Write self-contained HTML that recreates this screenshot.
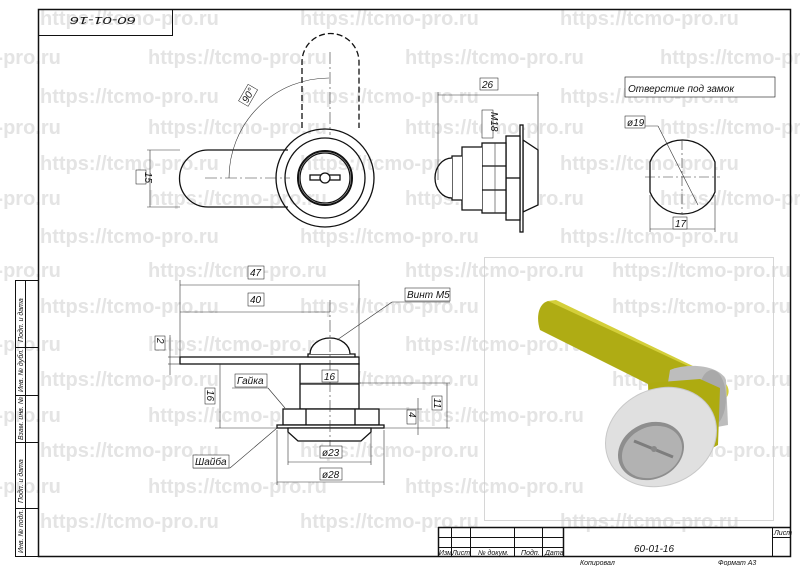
<!DOCTYPE html>
<html><head><meta charset="utf-8"><style>
html,body{margin:0;padding:0;background:#fff}
svg{display:block}
.wm{font:bold 20px "Liberation Sans",sans-serif;fill:#e4e4e4}
.t{font:italic 10px "Liberation Sans",sans-serif;fill:#111}
.s{font:italic 7px "Liberation Sans",sans-serif;fill:#111}
</style></head><body>
<svg width="800" height="566" viewBox="0 0 800 566" xmlns="http://www.w3.org/2000/svg">
<rect width="800" height="566" fill="#fff"/>
<g class="wm">
<text x="40" y="25">https://tcmo-pro.ru</text><text x="300" y="25">https://tcmo-pro.ru</text><text x="560" y="25">https://tcmo-pro.ru</text>
<text x="-118" y="64">https://tcmo-pro.ru</text><text x="148" y="64">https://tcmo-pro.ru</text><text x="405" y="64">https://tcmo-pro.ru</text><text x="660" y="64">https://tcmo-pro.ru</text>
<text x="40" y="103">https://tcmo-pro.ru</text><text x="300" y="103">https://tcmo-pro.ru</text><text x="560" y="103">https://tcmo-pro.ru</text>
<text x="-118" y="134">https://tcmo-pro.ru</text><text x="148" y="134">https://tcmo-pro.ru</text><text x="405" y="134">https://tcmo-pro.ru</text><text x="660" y="134">https://tcmo-pro.ru</text>
<text x="40" y="170">https://tcmo-pro.ru</text><text x="300" y="170">https://tcmo-pro.ru</text><text x="560" y="170">https://tcmo-pro.ru</text>
<text x="-118" y="205">https://tcmo-pro.ru</text><text x="148" y="205">https://tcmo-pro.ru</text><text x="405" y="205">https://tcmo-pro.ru</text><text x="660" y="205">https://tcmo-pro.ru</text>
<text x="40" y="243">https://tcmo-pro.ru</text><text x="300" y="243">https://tcmo-pro.ru</text><text x="560" y="243">https://tcmo-pro.ru</text>
<text x="-118" y="277">https://tcmo-pro.ru</text><text x="148" y="277">https://tcmo-pro.ru</text><text x="405" y="277">https://tcmo-pro.ru</text><text x="612" y="277">https://tcmo-pro.ru</text>
<text x="40" y="313">https://tcmo-pro.ru</text><text x="300" y="313">https://tcmo-pro.ru</text><text x="612" y="313">https://tcmo-pro.ru</text>
<text x="-118" y="351">https://tcmo-pro.ru</text><text x="148" y="351">https://tcmo-pro.ru</text><text x="405" y="351">https://tcmo-pro.ru</text>
<text x="40" y="386">https://tcmo-pro.ru</text><text x="300" y="386">https://tcmo-pro.ru</text><text x="612" y="386">https://tcmo-pro.ru</text>
<text x="-118" y="422">https://tcmo-pro.ru</text><text x="148" y="422">https://tcmo-pro.ru</text><text x="405" y="422">https://tcmo-pro.ru</text>
<text x="40" y="457">https://tcmo-pro.ru</text><text x="300" y="457">https://tcmo-pro.ru</text><text x="612" y="457">https://tcmo-pro.ru</text>
<text x="-118" y="493">https://tcmo-pro.ru</text><text x="148" y="493">https://tcmo-pro.ru</text><text x="405" y="493">https://tcmo-pro.ru</text>
<text x="40" y="528">https://tcmo-pro.ru</text><text x="300" y="528">https://tcmo-pro.ru</text><text x="560" y="528">https://tcmo-pro.ru</text>
</g>
<!-- frame -->
<g fill="none" stroke="#111">
<rect x="38.5" y="9.5" width="752" height="547" stroke-width="1.5"/>
<rect x="38.5" y="9.5" width="134" height="26"/>
<rect x="15.5" y="280.5" width="23" height="276"/>
<line x1="25.5" y1="280" x2="25.5" y2="557"/>
<line x1="15" y1="347.5" x2="38" y2="347.5"/><line x1="15" y1="395.5" x2="38" y2="395.5"/><line x1="15" y1="442.5" x2="38" y2="442.5"/><line x1="15" y1="508.5" x2="38" y2="508.5"/>
</g>
<text class="t" font-size="21" textLength="66" lengthAdjust="spacingAndGlyphs" transform="translate(136,17) rotate(180)" x="0" y="0">60-01-16</text>
<g class="s" font-size="6">
<text transform="translate(23,342) rotate(-90)">Подп. и дата</text>
<text transform="translate(23,392) rotate(-90)">Инв. № дубл.</text>
<text transform="translate(23,440) rotate(-90)">Взам. инв. №</text>
<text transform="translate(23,503) rotate(-90)">Подп. и дата</text>
<text transform="translate(23,553) rotate(-90)">Инв. № подл.</text>
</g>
<!-- title block -->
<g fill="none" stroke="#111">
<line x1="438" y1="527.5" x2="790" y2="527.5" stroke-width="1.5"/>
<line x1="438.5" y1="527" x2="438.5" y2="557" stroke-width="1.5"/>
<line x1="438" y1="537.5" x2="563" y2="537.5"/><line x1="438" y1="547.5" x2="563" y2="547.5"/>
<line x1="451.5" y1="527" x2="451.5" y2="557"/><line x1="470.5" y1="527" x2="470.5" y2="557"/><line x1="514.5" y1="527" x2="514.5" y2="557"/><line x1="542.5" y1="527" x2="542.5" y2="557"/>
<line x1="563.5" y1="527" x2="563.5" y2="557" stroke-width="1.5"/>
<line x1="772.5" y1="527" x2="772.5" y2="557"/><line x1="772" y1="537.5" x2="790" y2="537.5"/>
</g>
<text class="t" font-size="16" x="634" y="552">60-01-16</text>
<g class="s" font-size="6"><text x="439" y="555">Изм.</text><text x="452" y="555">Лист</text><text x="478" y="555">№ докум.</text><text x="521" y="555">Подп.</text><text x="545" y="555">Дата</text><text x="774" y="535">Лист</text></g>
<text class="s" x="580" y="565">Копировал</text><text class="s" x="718" y="565">Формат    А3</text>

<!-- front view -->
<g fill="none" stroke="#111" stroke-width="1.3">
<path d="M302 128 V62 A28.5 28.5 0 0 1 359 62 V128" stroke-dasharray="6,3"/>
<path d="M288 150 H208 A28.5 28.5 0 0 0 208 207 H288"/>
<circle cx="325" cy="178" r="49"/>
<circle cx="325" cy="178" r="40"/>
<circle cx="325" cy="178" r="27" stroke-width="2"/>
<circle cx="325" cy="178" r="25"/>
<rect x="310" y="175" width="30" height="5"/>
<circle cx="325" cy="178" r="5" fill="#fff"/>
</g>
<g stroke="#333" stroke-width="0.6" fill="none">
<line x1="205" y1="178" x2="290" y2="178" stroke-dasharray="12,3,2,3"/>
<line x1="330" y1="52" x2="330" y2="135" stroke-dasharray="12,3,2,3"/>
<path d="M229 178 A100 100 0 0 1 329 78"/>
<line x1="147" y1="150" x2="180" y2="150"/><line x1="147" y1="207" x2="180" y2="207"/><line x1="150" y1="150" x2="150" y2="207"/>
</g>
<rect x="136" y="170" width="10" height="14" fill="#fff" stroke="#111" stroke-width="0.5"/>
<text class="t" transform="translate(145,172) rotate(90)">15</text>
<g transform="translate(250,97) rotate(-60)"><rect x="-9" y="-8" width="19" height="11" fill="#fff" stroke="#111" stroke-width="0.5"/><text class="t" x="-7" y="1">90°</text></g>

<!-- side view -->
<g fill="#fff" stroke="#111" stroke-width="1.3">
<path d="M523 140 L538 150 V205 L523 212 Z"/>
<rect x="520" y="125" width="3" height="107"/>
<rect x="506" y="136" width="14" height="84"/>
<rect x="482" y="143" width="24" height="70"/>
<line x1="482" y1="166" x2="506" y2="166"/><line x1="482" y1="190" x2="506" y2="190"/><line x1="506" y1="178" x2="520" y2="178"/>
<path d="M482 147 H462 V210 H482"/>
<path d="M462 156 H452 V200 H462"/>
<path d="M452 158 A17 20 0 0 0 452 198"/>
</g>
<g stroke="#333" stroke-width="0.6" fill="none">
<line x1="438" y1="95" x2="538" y2="95"/><line x1="438" y1="92" x2="438" y2="180"/><line x1="538" y1="92" x2="538" y2="150"/>
<line x1="495" y1="143" x2="495" y2="213"/>
</g>
<rect x="480" y="78" width="18" height="12" fill="#fff" stroke="#111" stroke-width="0.5"/><text class="t" x="482" y="88">26</text>
<rect x="482" y="110" width="11" height="28" fill="#fff" stroke="#111" stroke-width="0.5"/><text class="t" transform="translate(491,112) rotate(90)">M18</text>

<!-- hole -->
<rect x="625" y="77" width="150" height="20" fill="#fff" stroke="#111" stroke-width="0.6"/>
<text class="t" font-size="12" x="628" y="92">Отверстие под замок</text>
<path d="M650 162 A35 35 0 0 1 715 162 V192 A35 35 0 0 1 650 192 Z" fill="none" stroke="#111" stroke-width="1.3"/>
<g stroke="#333" stroke-width="0.6" fill="none">
<line x1="645" y1="177" x2="720" y2="177" stroke-dasharray="10,3,2,3"/><line x1="682" y1="140" x2="682" y2="214" stroke-dasharray="10,3,2,3"/>
<line x1="650" y1="195" x2="650" y2="232"/><line x1="715" y1="195" x2="715" y2="232"/><line x1="650" y1="229" x2="715" y2="229"/>
<line x1="625" y1="126" x2="658" y2="126"/><line x1="658" y1="126" x2="698" y2="205"/>
</g>
<rect x="625" y="116" width="20" height="12" fill="#fff" stroke="#111" stroke-width="0.5"/><text class="t" x="627" y="126">ø19</text>
<rect x="673" y="217" width="14" height="12" fill="#fff" stroke="#111" stroke-width="0.5"/><text class="t" x="675" y="227">17</text>

<!-- bottom view -->
<g fill="#fff" stroke="#111" stroke-width="1.3">
<rect x="180" y="357" width="179" height="7"/>
<path d="M308 357 H355 V354 H308 Z"/>
<path d="M310 354 A20 16 0 0 1 350 354"/>
<rect x="300" y="364" width="59" height="45"/>
<line x1="300" y1="384" x2="359" y2="384"/>
<rect x="283" y="409" width="96" height="16"/>
<line x1="306" y1="409" x2="306" y2="425"/><line x1="355" y1="409" x2="355" y2="425"/>
<rect x="277" y="425" width="107" height="3"/>
<path d="M288 428 H371 V432 L361 441 H298 L288 432 Z"/>
</g>
<g stroke="#333" stroke-width="0.6" fill="none">
<line x1="180" y1="285" x2="359" y2="285"/><line x1="180" y1="312" x2="330" y2="312"/>
<line x1="180" y1="280" x2="180" y2="357"/><line x1="359" y1="280" x2="359" y2="357"/><line x1="330" y1="300" x2="330" y2="460" stroke-dasharray="12,3,2,3"/>
<line x1="168" y1="357" x2="180" y2="357"/><line x1="168" y1="364" x2="180" y2="364"/><line x1="170" y1="335" x2="170" y2="375"/>
<line x1="220" y1="364" x2="220" y2="428"/><line x1="215" y1="428" x2="277" y2="428"/>
<line x1="300" y1="383" x2="361" y2="383"/><line x1="359" y1="383" x2="450" y2="383"/><line x1="447" y1="383" x2="447" y2="428"/>
<line x1="384" y1="428" x2="450" y2="428"/><line x1="379" y1="409" x2="422" y2="409"/><line x1="418" y1="398" x2="418" y2="435"/>
<line x1="288" y1="432" x2="288" y2="465"/><line x1="371" y1="432" x2="371" y2="465"/><line x1="288" y1="462" x2="371" y2="462"/>
<line x1="277" y1="430" x2="277" y2="485"/><line x1="384" y1="430" x2="384" y2="485"/><line x1="277" y1="482" x2="384" y2="482"/>
<line x1="337" y1="340" x2="392" y2="302"/><line x1="392" y1="302" x2="450" y2="302"/>
<line x1="232" y1="388" x2="268" y2="388"/><line x1="268" y1="388" x2="285" y2="408"/>
<line x1="193" y1="468" x2="230" y2="468"/><line x1="230" y1="468" x2="277" y2="428"/>
</g>
<g fill="#fff" stroke="#111" stroke-width="0.5">
<rect x="248" y="266" width="16" height="13"/><rect x="248" y="293" width="16" height="13"/>
<rect x="155" y="336" width="10" height="14"/><rect x="205" y="388" width="10" height="16"/>
<rect x="322" y="370" width="16" height="12"/><rect x="407" y="410" width="9" height="14"/><rect x="432" y="396" width="10" height="14"/>
<rect x="320" y="446" width="22" height="12"/><rect x="320" y="468" width="22" height="12"/>
<rect x="405" y="288" width="45" height="13"/><rect x="235" y="374" width="32" height="13"/><rect x="193" y="455" width="36" height="13"/>
</g>
<g class="t">
<text x="250" y="276">47</text><text x="250" y="303">40</text>
<text transform="translate(157,338) rotate(90)">2</text><text transform="translate(207,390) rotate(90)">16</text>
<text x="324" y="380">16</text><text transform="translate(409,412) rotate(90)">4</text><text transform="translate(434,398) rotate(90)">11</text>
<text x="322" y="456">ø23</text><text x="322" y="478">ø28</text>
<text x="407" y="298">Винт М5</text><text x="237" y="384">Гайка</text><text x="195" y="465">Шайба</text>
</g>

<!-- 3D view -->
<rect x="484.5" y="257.5" width="289" height="263" fill="none" stroke="#ccc" stroke-width="0.8"/>
<path d="M548 301 L556 300 L722 380 C730 386 730 394 726 398 L720 396 Z" fill="#d4cf3a"/>
<path d="M548 301 C538 304 536 318 540 330 L648 384 L722 396 C728 390 726 384 718 380 Z" fill="#afac14"/>
<path d="M670 370 C690 362 720 366 726 380 L728 425 L690 432 L662 420 Z" fill="#bdbdbd"/>
<ellipse cx="712" cy="398" rx="14" ry="28" fill="#a9a9a9"/>
<path d="M648 383 L700 379 L720 388 L718 445 L705 452 L650 452 Z" fill="#aeab10"/>
<ellipse cx="661" cy="437" rx="57" ry="48" transform="rotate(-25 661 437)" fill="#e0e0e0" stroke="#c8c8c8"/>
<ellipse cx="651" cy="451" rx="34" ry="28" transform="rotate(-25 651 451)" fill="#8e8e8e"/>
<ellipse cx="652" cy="452" rx="31" ry="25" transform="rotate(-25 652 452)" fill="#b2b2b2"/>
<path d="M634 441 L673 457" stroke="#7d7d7d" stroke-width="3"/>
<circle cx="654" cy="449" r="3" fill="#888"/>
</svg>
</body></html>
